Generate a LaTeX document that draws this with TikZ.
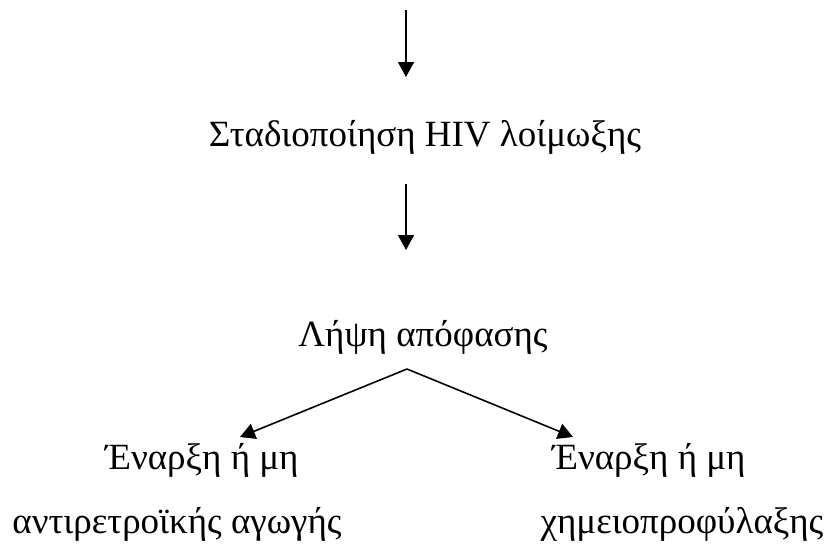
\documentclass[tikz,border=0pt]{standalone}
\usepackage{fontspec}
\setmainfont{Liberation Serif}
\usetikzlibrary{arrows.meta}

\begin{document}
\begin{tikzpicture}
  [x=1pt,y=-1pt,every node/.style={anchor=base,inner sep=0pt,font=\fontsize{37}{44}\selectfont},
   arr/.style={line width=1.6pt,-{Triangle[length=15pt,width=16pt]}}]
  \useasboundingbox (0,0) rectangle (829,550);
  \node (stad) at (425,146) {Σταδιοποίηση HIV λοίμωξης};
  \node (dec)  at (423,346) {Λήψη απόφασης};
  \node (l1)   at (202,469) {Έναρξη ή μη};
  \node (l2)   at (177,533) {αντιρετροϊκής αγωγής};
  \node (r1)   at (649,469) {Έναρξη ή μη};
  \node (r2)   at (682,533) {χημειοπροφύλαξης};

  \coordinate (in)    at (406,10);
  \coordinate (s1)    at (406,77);
  \coordinate (s2)    at (406,184);
  \coordinate (d1)    at (406,250);
  \coordinate (split) at (407,369);
  \coordinate (ltip)  at (240,437);
  \coordinate (rtip)  at (573,437);

  \foreach \from/\to in {in/s1,s2/d1,split/ltip,split/rtip}
    \draw[arr] (\from) -- (\to);

\end{tikzpicture}
\end{document}
